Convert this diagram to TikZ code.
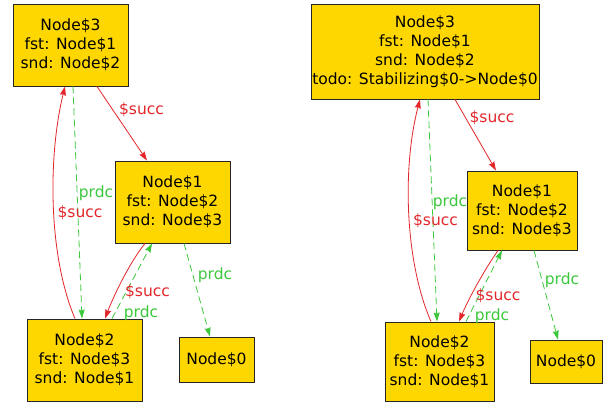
\documentclass[tikz,border=0pt]{standalone}
\usepackage{fontspec}
\setmainfont{DejaVu Sans}
\usetikzlibrary{arrows.meta}
\definecolor{boxfill}{HTML}{FFD700}
\definecolor{succred}{HTML}{E3262A}
\definecolor{prdcgreen}{HTML}{3CC83C}
\begin{document}
\begin{tikzpicture}[x=1pt,y=-1pt,
  every node/.style={font=\fontsize{15.5}{19}\selectfont, inner sep=0pt},
  obj/.style={draw=black!85, line width=0.9pt, fill=boxfill, align=center, text=black},
  succ/.style={draw=succred, line width=0.8pt, -{Stealth[length=9pt,width=6pt,inset=1pt]}},
  prdc/.style={draw=prdcgreen, line width=0.8pt, dash pattern=on 7pt off 4pt, -{Stealth[length=9pt,width=6pt,inset=1pt]}},
  slab/.style={text=succred},
  plab/.style={text=prdcgreen}]
\useasboundingbox (0,0) rectangle (610,407);
\fill[white] (0,0) rectangle (610,407);
% left graph
\node[obj, minimum width=115pt, minimum height=82pt] (L3) at (70.5,45) {Node\$3\\fst: Node\$1\\snd: Node\$2};
\node[obj, minimum width=115pt, minimum height=82pt] (L1) at (172.5,202) {Node\$1\\fst: Node\$2\\snd: Node\$3};
\node[obj, minimum width=115pt, minimum height=82pt] (L2) at (84.5,360) {Node\$2\\fst: Node\$3\\snd: Node\$1};
\node[obj, minimum width=75pt, minimum height=45pt] (L0) at (216.5,359.5) {Node\$0};
\draw[succ] ([xshift=26.5pt]L3.south) -- ([xshift=-25.5pt]L1.north);
\draw[succ] ([xshift=-9.5pt]L2.north) .. controls (48,255) and (48,156) .. ([xshift=-5.5pt]L3.south);
\draw[prdc] ([xshift=2.5pt]L3.south) -- ([xshift=-2.5pt]L2.north);
\draw[succ] ([xshift=-27.5pt]L1.south) .. controls (130,262) and (114,295) .. ([xshift=20.5pt]L2.north);
\draw[prdc] ([xshift=27.5pt]L2.north) -- ([xshift=-20.5pt]L1.south);
\draw[prdc] ([xshift=11.5pt]L1.south) -- ([xshift=-6.5pt]L0.north);
\node[slab] (ls1) at (141.5,110) {\$succ};
\node[slab] (ls2) at (80,213) {\$succ};
\node[plab] (lp1) at (96,193) {prdc};
\node[slab] (ls3) at (147.5,292) {\$succ};
\node[plab] (lp2) at (141,313) {prdc};
\node[plab] (lp3) at (215,275) {prdc};
% right graph
\node[obj, minimum width=228pt, minimum height=95pt] (R3) at (425,51.5) {Node\$3\\fst: Node\$1\\snd: Node\$2\\todo: Stabilizing\$0->Node\$0};
\node[obj, minimum width=110pt, minimum height=79pt] (R1) at (522,210.5) {Node\$1\\fst: Node\$2\\snd: Node\$3};
\node[obj, minimum width=109pt, minimum height=79pt] (R2) at (439.5,361.5) {Node\$2\\fst: Node\$3\\snd: Node\$1};
\node[obj, minimum width=72pt, minimum height=43pt] (R0) at (566,361.5) {Node\$0};
\draw[succ] ([xshift=30pt]R3.south) -- ([xshift=-26pt]R1.north);
\draw[succ] ([xshift=-8.5pt]R2.north) .. controls (405,262) and (402,168) .. ([xshift=-5pt]R3.south);
\draw[prdc] ([xshift=3pt]R3.south) -- ([xshift=-2.5pt]R2.north);
\draw[succ] ([xshift=-24pt]R1.south) .. controls (483,272) and (468,300) .. ([xshift=19.5pt]R2.north);
\draw[prdc] ([xshift=26.5pt]R2.north) -- ([xshift=-20pt]R1.south);
\draw[prdc] ([xshift=12pt]R1.south) -- ([xshift=-8pt]R0.north);
\node[slab] (rs1) at (492,118) {\$succ};
\node[slab] (rs2) at (435.5,221) {\$succ};
\node[plab] (rp1) at (450,202) {prdc};
\node[slab] (rs3) at (498,296) {\$succ};
\node[plab] (rp2) at (492,316) {prdc};
\node[plab] (rp3) at (562,280) {prdc};
\end{tikzpicture}
\end{document}
